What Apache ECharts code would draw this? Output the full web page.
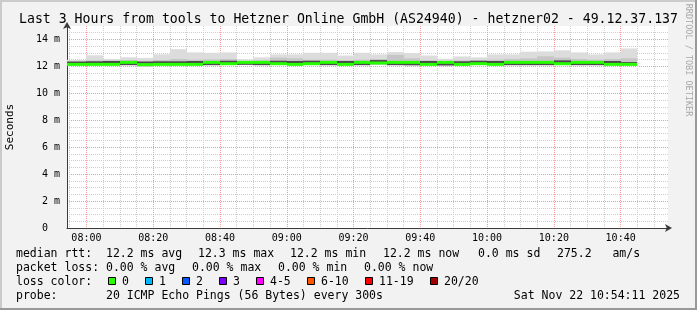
<!DOCTYPE html>
<html><head><meta charset="utf-8">
<script src="https://cdn.jsdelivr.net/npm/echarts@6/dist/echarts.min.js"></script>
<style>html,body{margin:0;padding:0;background:#f2f2f2}#c{width:697px;height:310px}</style>
</head><body><div id="c"></div>
<script>
// ---- data ----
const titleText = 'Last 3 Hours from tools to Hetzner Online GmbH (AS24940) - hetzner02 - 49.12.37.137';
const windowStart = '07:54:11';
const windowEnd = '10:54:11';
const barEnd = ['08:00','08:05','08:10','08:15','08:20','08:25','08:30','08:35','08:40','08:45',
  '08:50','08:55','09:00','09:05','09:10','09:15','09:20','09:25','09:30','09:35',
  '09:40','09:45','09:50','09:55','10:00','10:05','10:10','10:15','10:20','10:25',
  '10:30','10:35','10:40','10:45'];
// values in ms
const median   = [12.15,12.15,12.15,12.30,12.13,12.15,12.15,12.15,12.30,12.20,12.30,12.30,12.20,12.15,12.20,12.30,12.15,12.30,12.25,12.30,12.30,12.15,12.30,12.15,12.20,12.15,12.30,12.30,12.30,12.20,12.30,12.30,12.15,12.15];
const coreLo   = [12.22,12.22,12.22,12.10,12.20,12.22,12.22,12.24,12.10,12.25,12.12,12.10,12.25,12.22,12.25,12.10,12.22,12.10,12.30,12.10,12.10,12.22,12.08,12.22,12.25,12.22,12.10,12.10,12.10,12.25,12.10,12.10,12.22,12.20];
const coreHi   = [12.36,12.38,12.40,12.25,12.36,12.38,12.38,12.40,12.25,12.42,12.24,12.25,12.42,12.40,12.42,12.25,12.40,12.25,12.47,12.25,12.25,12.40,12.25,12.38,12.42,12.40,12.25,12.25,12.25,12.45,12.25,12.25,12.40,12.32];
const innerMax = [12.38,12.45,12.45,12.48,12.42,12.48,12.55,12.50,12.52,12.55,12.40,12.45,12.65,12.60,12.50,12.50,12.45,12.50,12.55,12.85,12.60,12.45,12.40,12.45,12.45,12.50,12.55,12.60,12.75,12.65,12.55,12.50,12.55,12.60];
const smokeMax = [12.49,12.83,12.54,12.68,12.63,12.90,13.28,13.04,13.01,13.04,12.52,12.67,12.89,12.89,13.01,13.01,12.81,13.01,12.89,13.06,12.99,12.81,12.57,12.74,12.67,12.89,12.89,13.09,13.11,13.19,13.04,12.89,13.04,13.33];
const smokeMin = [12.10,12.10,12.10,12.08,12.00,12.10,12.10,12.10,12.08,12.12,12.10,12.08,12.12,12.10,12.12,12.08,12.10,12.08,12.12,12.08,12.02,12.10,12.02,12.10,12.12,12.10,12.08,12.08,12.08,12.10,12.08,12.08,12.10,12.10];
const yTicks = [0,2,4,6,8,10,12,14];
const yMax = 15;
const medianStats = { avg: 12.2, max: 12.3, min: 12.2, now: 12.2 };
const sdValue = 0.0;
const amsValue = 275.2;
const lossStats = { avg: 0.00, max: 0.00, min: 0.00, now: 0.00 };
const lossLabels = ['0','1','2','3','4-5','6-10','11-19','20/20'];
const lossColors = ['#26ff00','#00b8ff','#0059ff','#7e00ff','#ff00ff','#ff5500','#ff0000','#a10000'];
const probeText = '20 ICMP Echo Pings (56 Bytes) every 300s';
const dateText = 'Sat Nov 22 10:54:11 2025';

// ---- helpers ----
const toMin = s => { const p = s.split(':').map(Number); return p[0]*60 + p[1] + (p[2]||0)/60; };
const fmt = v => { const h = Math.floor(v/60 + 1e-9), m = Math.round(v - h*60); return String(h).padStart(2,'0') + ':' + String(m).padStart(2,'0'); };
const xMin = toMin(windowStart), xMax = toMin(windowEnd);
const MONO = '"DejaVu Sans Mono", monospace';
// each bar spans from the previous bar's end (or the window start) to its own end
const barStartMin = barEnd.map((t, i) => i === 0 ? xMin : toMin(barEnd[i - 1]));

function bandSeries(lo, hi, color, z) {
  return {
    type: 'custom', z: z, xAxisIndex: 1, yAxisIndex: 1, clip: true, silent: true,
    data: barEnd.map((t, i) => [barStartMin[i], toMin(t), lo[i], hi[i]]),
    encode: { x: [0, 1], y: [2, 3] },
    renderItem: function (params, api) {
      const p0 = api.coord([api.value(0), api.value(3)]);
      const p1 = api.coord([api.value(1), api.value(2)]);
      const x0 = Math.round(p0[0]), x1 = Math.round(p1[0]);
      return { type: 'rect', shape: { x: x0, y: p0[1], width: x1 - x0, height: p1[1] - p0[1] }, style: { fill: color } };
    }
  };
}
function medianSeries(color, z) {
  return {
    type: 'custom', z: z, xAxisIndex: 1, yAxisIndex: 1, clip: true, silent: true,
    data: barEnd.map((t, i) => [barStartMin[i], toMin(t), median[i]]),
    encode: { x: [0, 1], y: 2 },
    renderItem: function (params, api) {
      const p0 = api.coord([api.value(0), api.value(2)]);
      const p1 = api.coord([api.value(1), api.value(2)]);
      const x0 = Math.round(p0[0]), x1 = Math.round(p1[0]);
      return { type: 'rect', shape: { x: x0, y: p0[1] - 1.5, width: x1 - x0, height: 3 }, style: { fill: color } };
    }
  };
}

// ---- legend graphics ----
const graphics = [];
graphics.push({ type: 'rect', shape: { x: 0, y: 0, width: 697, height: 2 }, style: { fill: '#cbcbcb' }, silent: true });
graphics.push({ type: 'rect', shape: { x: 0, y: 0, width: 2, height: 310 }, style: { fill: '#cbcbcb' }, silent: true });
graphics.push({ type: 'rect', shape: { x: 0, y: 308, width: 697, height: 2 }, style: { fill: '#999999' }, silent: true });
graphics.push({ type: 'rect', shape: { x: 695, y: 0, width: 2, height: 310 }, style: { fill: '#999999' }, silent: true });
function txt(x, y, s, size, align, extra) {
  return Object.assign({ type: 'text', x: x, y: y, silent: true,
    style: { text: s, font: size + 'px ' + MONO, fill: '#000', align: align || 'left', verticalAlign: 'middle' } }, extra || {});
}
graphics.push(txt(348.5, 19.5, titleText, 13.2, 'center'));
graphics.push(txt(10, 127, 'Seconds', 11, 'center', { rotation: Math.PI / 2 }));
const wm = txt(688, 60, 'RRDTOOL / TOBI OETIKER', 8.5, 'center', { rotation: -Math.PI / 2 });
wm.style.fill = '#a8a8a8';
graphics.push(wm);
const rowY = [254, 268, 282, 296];
const f1 = v => v.toFixed(1), f2 = v => v.toFixed(2);
const row1 = ['median rtt:', f1(medianStats.avg) + ' ms avg', f1(medianStats.max) + ' ms max', f1(medianStats.min) + ' ms min', f1(medianStats.now) + ' ms now', f1(sdValue) + ' ms sd', f1(amsValue) + '   am/s'];
const row1X = [16, 106, 198, 290, 383, 478, 557];
row1.forEach((s, i) => graphics.push(txt(row1X[i], rowY[0], s, 11.5)));
const row2 = ['packet loss:', f2(lossStats.avg) + ' % avg', f2(lossStats.max) + ' % max', f2(lossStats.min) + ' % min', f2(lossStats.now) + ' % now'];
const row2X = [16, 106, 192, 278, 364];
row2.forEach((s, i) => graphics.push(txt(row2X[i], rowY[1], s, 11.5)));
graphics.push(txt(16, rowY[2], 'loss color:', 11.5));
let bx = 108;
lossLabels.forEach((lab, i) => {
  graphics.push({ type: 'rect', silent: true, shape: { x: Math.round(bx) + 0.5, y: rowY[2] - 4.5, width: 7, height: 7 }, style: { fill: lossColors[i], stroke: '#000', lineWidth: 1 } });
  graphics.push(txt(Math.round(bx) + 14, rowY[2], lab, 11.5));
  bx += 29.8 + 7.1 * lab.length;
});
graphics.push(txt(16, rowY[3], 'probe:', 11.5));
graphics.push(txt(106, rowY[3], probeText, 11.5));
graphics.push(txt(680, rowY[3], dateText, 11.5, 'right'));

const gridGray = '#cfcfcf', gridRed = '#f29a9a', axisCol = '#3a3a3a';

const option = {
  backgroundColor: '#f2f2f2',
  animation: false,
  grid: { left: 67, right: 29, top: 26, bottom: 82, show: true, backgroundColor: '#ffffff', borderWidth: 0 },
  xAxis: [
    { type: 'value', position: 'bottom', min: xMin, max: xMax, splitNumber: 36, minInterval: 5, maxInterval: 5,
      axisLine: { show: false }, axisTick: { show: false }, axisLabel: { show: false },
      splitLine: { show: true, showMinLine: false, showMaxLine: false, lineStyle: { color: gridGray, type: [1, 1], width: 1 } } },
    { type: 'value', position: 'bottom', offset: 0, min: xMin, max: xMax, splitNumber: 9, minInterval: 20, maxInterval: 20,
      axisLine: { show: true, onZero: false, symbol: ['none', 'arrow'], symbolSize: [6, 7], symbolOffset: [0, 4], lineStyle: { color: axisCol, width: 1 } },
      axisTick: { show: false },
      axisLabel: { show: true, showMinLabel: false, showMaxLabel: false, formatter: fmt, margin: 5, color: '#000', fontSize: 10, fontFamily: MONO },
      splitLine: { show: true, showMinLine: false, showMaxLine: false, lineStyle: { color: gridRed, type: [1, 1], width: 1 } } }
  ],
  yAxis: [
    { type: 'value', position: 'left', min: 0, max: yMax, interval: 0.5,
      axisLine: { show: false }, axisTick: { show: false }, axisLabel: { show: false },
      splitLine: { show: true, showMinLine: false, showMaxLine: false, lineStyle: { color: gridGray, type: [1, 1], width: 1 } } },
    { type: 'value', position: 'left', offset: 0, min: 0, max: yMax, interval: yTicks[1] - yTicks[0],
      axisLine: { show: true, onZero: false, symbol: ['none', 'arrow'], symbolSize: [6, 7], symbolOffset: [0, 4], lineStyle: { color: axisCol, width: 1 } },
      axisTick: { show: false },
      axisLabel: { show: true, showMaxLabel: false, margin: 7, color: '#000', fontSize: 10, fontFamily: MONO,
        formatter: v => yTicks.indexOf(v) < 0 ? '' : (v === 0 ? '0  ' : v + ' m') },
      splitLine: { show: true, showMinLine: false, showMaxLine: false, lineStyle: { color: gridRed, type: [1, 1], width: 1 } } }
  ],
  series: [
    bandSeries(smokeMin, smokeMax, '#dcdcdc', 3),
    bandSeries(smokeMin, innerMax, '#c6c6c6', 4),
    bandSeries(coreLo, coreHi, '#4a4a4a', 5),
    medianSeries(lossColors[0], 6)
  ],
  graphic: graphics
};
const chart = echarts.init(document.getElementById('c'), null, { renderer: 'canvas' });
chart.setOption(option);
</script>
</body></html>
